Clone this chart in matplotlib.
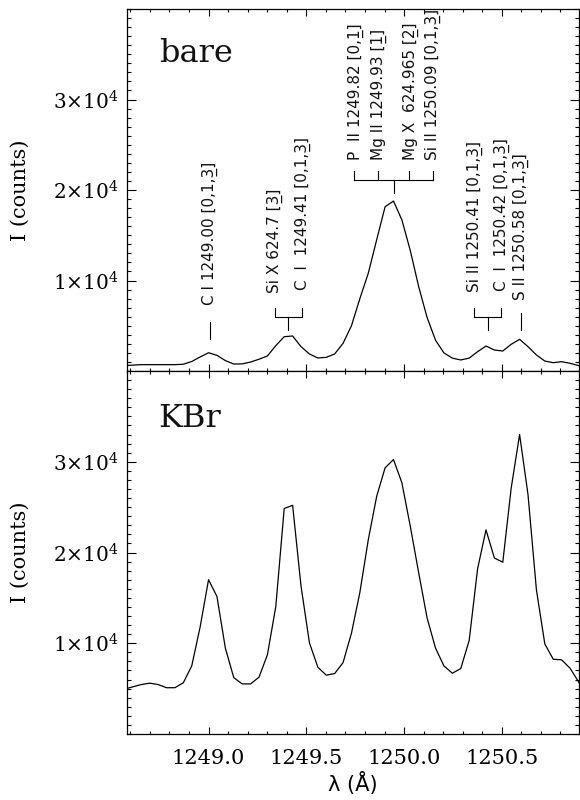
import matplotlib
matplotlib.use('Agg')
import matplotlib.pyplot as plt
from matplotlib.ticker import MultipleLocator, FixedLocator, FixedFormatter

plt.rcParams['mathtext.fontset'] = 'dejavuserif'

# wavelength samples (Angstrom)
wavelength = [
    1248.570, 1248.613, 1248.656, 1248.699, 1248.742, 1248.785, 1248.828, 1248.871, 1248.914, 1248.957,
    1249.000, 1249.043, 1249.086, 1249.129, 1249.172, 1249.215, 1249.258, 1249.301, 1249.344, 1249.387,
    1249.430, 1249.473, 1249.516, 1249.559, 1249.602, 1249.645, 1249.688, 1249.731, 1249.774, 1249.817,
    1249.860, 1249.903, 1249.946, 1249.989, 1250.032, 1250.075, 1250.118, 1250.161, 1250.204, 1250.247,
    1250.290, 1250.333, 1250.376, 1250.419, 1250.462, 1250.505, 1250.548, 1250.591, 1250.634, 1250.677,
    1250.720, 1250.763, 1250.806, 1250.849, 1250.892, 1250.935,
]

counts_bare = [
    600, 650, 700, 700, 700, 700, 700, 750, 1050, 1550,
    2020, 1730, 1150, 770, 790, 990, 1300, 1660, 2800, 3790,
    3870, 2690, 1880, 1440, 1510, 1880, 3060, 5000, 8000, 10800,
    14500, 18150, 18780, 16690, 13300, 9300, 5900, 3400, 2000, 1420,
    1220, 1420, 2130, 2760, 2320, 2210, 2950, 3500, 2690, 1770,
    1100, 920, 1030, 850, 600, 450,
]

counts_kbr = [
    4950, 5200, 5450, 5600, 5450, 5100, 5100, 5650, 7500, 11800,
    17000, 15150, 9460, 6210, 5520, 5520, 6260, 8720, 14050, 24850,
    25200, 16300, 10050, 7360, 6480, 6660, 7870, 11110, 15600, 21400,
    26190, 29330, 30240, 27670, 22880, 17740, 12770, 9460, 7500, 6700,
    7210, 10300, 18180, 22500, 19390, 18930, 27100, 33000, 26380, 15890,
    9920, 8240, 8170, 7250, 5770, 4300,
]

x_ticks = [1249.0, 1249.5, 1250.0, 1250.5]
x_ticklabels = ['1249.0', '1249.5', '1250.0', '1250.5']
y_ticks = [1e4, 2e4, 3e4]
y_ticklabels = [r'$1{\times}10^4$', r'$2{\times}10^4$', r'$3{\times}10^4$']

U = '\u0332'  # combining underline
# line identifications: (x, text bottom, label)
line_ids = [
    (1249.007, 7290, 'C I 1249.00 [0,1,3' + U + ']'),
    (1249.338, 8620, 'Si X 624.7 [3' + U + ']'),
    (1249.481, 8950, 'C  I  1249.41 [0,1,3' + U + ']'),
    (1249.752, 23300, 'P  II 1249.82 [0,1' + U + ']'),
    (1249.873, 23300, 'Mg II 1249.93 [1' + U + ']'),
    (1250.034, 23300, 'Mg X  624.965 [2' + U + ']'),
    (1250.150, 23300, 'Si II 1250.09 [0,1,3' + U + ']'),
    (1250.361, 8760, 'Si II 1250.41 [0,1,3' + U + ']'),
    (1250.500, 8840, 'C  I  1250.42 [0,1,3' + U + ']'),
    (1250.599, 7850, 'S II 1250.58 [0,1,3' + U + ']'),
]

XLIM = (1248.583, 1250.894)
YLIM = (0, 40000)


def style_axes(ax, show_xlabels):
    ax.set_xlim(*XLIM)
    ax.set_ylim(*YLIM)
    ax.xaxis.set_major_locator(FixedLocator(x_ticks))
    ax.xaxis.set_minor_locator(MultipleLocator(0.1))
    ax.yaxis.set_major_locator(FixedLocator(y_ticks))
    ax.yaxis.set_major_formatter(FixedFormatter(y_ticklabels))
    ax.yaxis.set_minor_locator(MultipleLocator(1000))
    ax.tick_params(axis='x', which='major', direction='in', length=5, width=0.8,
                   top=True, bottom=True, pad=11, labelsize=15)
    ax.tick_params(axis='x', which='minor', direction='in', length=2.5, width=0.8,
                   top=True, bottom=True)
    ax.tick_params(axis='y', which='major', direction='in', length=6.8, width=0.8,
                   left=True, right=True, pad=6, labelsize=14.5)
    ax.tick_params(axis='y', which='minor', direction='in', length=3.2, width=0.8,
                   left=True, right=True)
    if show_xlabels:
        ax.set_xticks(x_ticks)
        ax.set_xticklabels(x_ticklabels, family='DejaVu Serif')
    else:
        ax.tick_params(axis='x', labelbottom=False)
    for s in ax.spines.values():
        s.set_linewidth(0.9)
    ax.set_ylabel('I (counts)', family='DejaVu Serif', fontsize=15)
    ax.yaxis.set_label_coords(-0.215, 0.5)


fig = plt.figure(figsize=(5.8, 8.0), dpi=100)
ax1 = fig.add_axes([0.219, 0.53625, 0.779, 0.4525])
ax2 = fig.add_axes([0.219, 0.0825, 0.779, 0.45375])

ax1.plot(wavelength, counts_bare, color='black', lw=0.9)
ax2.plot(wavelength, counts_kbr, color='black', lw=0.9)
style_axes(ax1, False)
style_axes(ax2, True)

ax1.text(0.07, 0.854, 'bare', transform=ax1.transAxes, family='DejaVu Serif',
         fontsize=23, ha='left', va='baseline', color='#111111')
ax2.text(0.07, 0.846, 'KBr', transform=ax2.transAxes, family='DejaVu Serif',
         fontsize=23, ha='left', va='baseline', color='#111111')

# identification markers
kw = dict(color='black', lw=0.8)
ax1.plot([1249.007, 1249.007], [3540, 5410], **kw)
ax1.plot([1250.597, 1250.597], [4530, 6380], **kw)
for left, right, stem in [(1249.338, 1249.479, 1249.406), (1250.359, 1250.498, 1250.427)]:
    ax1.plot([left, left, right, right], [6920, 5990, 5990, 6920], **kw)
    ax1.plot([stem, stem], [5990, 4530], **kw)
quad = [1249.746, 1249.869, 1250.027, 1250.146]
ax1.plot([quad[0], quad[-1]], [21100, 21100], **kw)
for q in quad:
    ax1.plot([q, q], [21100, 22100], **kw)
ax1.plot([1249.947, 1249.947], [21100, 19640], **kw)

for x, y, label in line_ids:
    ax1.text(x, y, label, rotation=90, ha='center', va='bottom',
             family='DejaVu Sans', fontsize=11, color='#111111')

ax2.set_xlabel('\u03bb (\u00c5)', family='DejaVu Sans', fontsize=15)
ax2.xaxis.set_label_coords(0.5, -0.105)

fig.savefig('out.png', dpi=100)
